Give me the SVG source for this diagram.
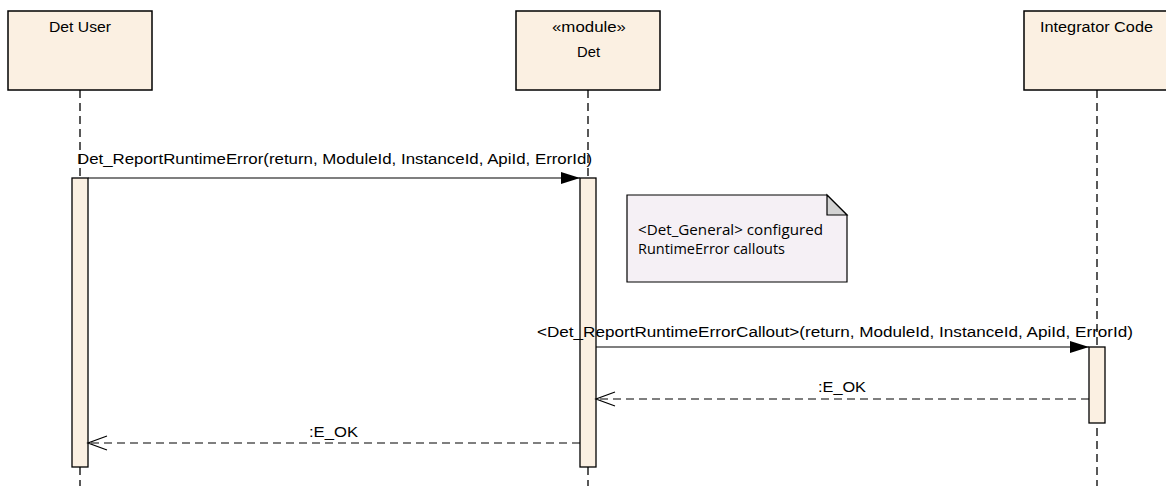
<svg xmlns="http://www.w3.org/2000/svg" width="1166" height="486" viewBox="0 0 1166 486">
<style>
.box{fill:#fbf0e2;stroke:#000;stroke-width:1.5}
.act{fill:#fbf0e2;stroke:#000;stroke-width:1.3}
.life{stroke:#000;stroke-width:1.3;stroke-dasharray:8 5;fill:none}
.msg{stroke:#000;stroke-width:1.2;fill:none}
.ret{stroke:#000;stroke-width:1.2;stroke-dasharray:8 5;fill:none}
.t{font-family:"Liberation Sans",Arial,sans-serif;font-size:14px;fill:#000}
.n{font-family:"Open Sans","Noto Sans",sans-serif;font-size:14px;fill:#000}
</style>
<defs>
<marker id="fill" markerWidth="20" markerHeight="14" refX="19" refY="7" orient="auto" markerUnits="userSpaceOnUse"><path d="M0,1 L19,7 L0,13 Z" fill="#000"/></marker>
<marker id="open" markerWidth="22" markerHeight="16" refX="20" refY="8" orient="auto" markerUnits="userSpaceOnUse"><path d="M1,1 L20,8 L1,15" fill="none" stroke="#000" stroke-width="1.2"/></marker>
</defs>
<g id="lifelines">
<line class="life" x1="80" y1="90" x2="80" y2="486"/>
<line class="life" x1="588" y1="90" x2="588" y2="486"/>
<line class="life" x1="1097" y1="90" x2="1097" y2="486"/>
</g>
<g id="detuser"><rect class="box" x="8" y="11" width="144" height="79"/><text class="t" x="49" y="32" textLength="62" lengthAdjust="spacingAndGlyphs">Det User</text></g>
<g id="det"><rect class="box" x="516" y="11" width="144" height="79"/><text class="t" x="552" y="32" textLength="74" lengthAdjust="spacingAndGlyphs">«module»</text><text class="t" x="577" y="57" textLength="23" lengthAdjust="spacingAndGlyphs">Det</text></g>
<g id="integrator"><rect class="box" x="1024" y="11" width="146" height="79"/><text class="t" x="1040" y="32" textLength="113" lengthAdjust="spacingAndGlyphs">Integrator Code</text></g>
<g id="activations">
<rect class="act" x="72" y="178" width="16" height="289"/>
<rect class="act" x="580" y="178" width="16" height="289"/>
<rect class="act" x="1089" y="347" width="16" height="76"/>
</g>
<g id="note"><path d="M627,195 L827,195 L847,215 L847,282 L627,282 Z" fill="#f5f0f5" stroke="#000" stroke-width="1.2"/><path d="M827,195 L827,215 L847,215 Z" fill="#d3d3d3" stroke="#000" stroke-width="1.2"/><text class="n" x="638" y="235" textLength="185" lengthAdjust="spacingAndGlyphs">&lt;Det_General&gt; configured</text><text class="n" x="638" y="254" textLength="147" lengthAdjust="spacingAndGlyphs">RuntimeError callouts</text></g>
<g id="connectors">
<line class="msg" x1="88" y1="178" x2="580" y2="178" marker-end="url(#fill)"/>
<text class="t" x="77" y="164" textLength="515" lengthAdjust="spacingAndGlyphs">Det_ReportRuntimeError(return, ModuleId, InstanceId, ApiId, ErrorId)</text>
<line class="msg" x1="596" y1="347" x2="1089" y2="347" marker-end="url(#fill)"/>
<text class="t" x="537" y="337" textLength="596" lengthAdjust="spacingAndGlyphs">&lt;Det_ReportRuntimeErrorCallout&gt;(return, ModuleId, InstanceId, ApiId, ErrorId)</text>
<line class="ret" x1="1089" y1="399" x2="596" y2="399" marker-end="url(#open)"/>
<text class="t" x="818" y="392" textLength="48" lengthAdjust="spacingAndGlyphs">:E_OK</text>
<line class="ret" x1="580" y1="443" x2="88" y2="443" marker-end="url(#open)"/>
<text class="t" x="309" y="437" textLength="49" lengthAdjust="spacingAndGlyphs">:E_OK</text>
</g>
</svg>
